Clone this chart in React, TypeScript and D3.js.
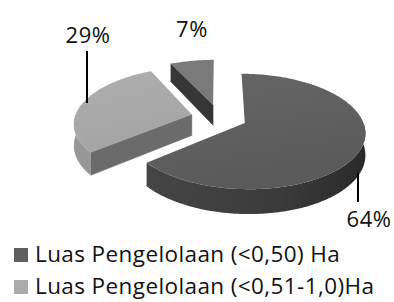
import React from "react";
import * as d3 from "d3";

// ---- data ----
const categories = ["Luas Pengelolaan (<0,50) Ha", "Luas Pengelolaan (<0,51-1,0)Ha", "Luas Pengelolaan (>1,0) Ha"];
const values = [64, 29, 7];
const labels = ["64%", "29%", "7%"];

// ---- styles ----
const radialColors = ["#4a4a4a", "#6b6b6b", "#363636"];
const outerColors = ["url(#bigSide)", "#989898", "#3a3a3a"];
const topFills = ["url(#bigTop)", "url(#midTop)", "#7a7a7a"];
const legendColors = ["#5f5f5f", "#aaaaaa", "#7a7a7a"];

const W = 394, H = 302;
// projection parameters
const CX = 219, CY = 117.4, RX = 117, RY = 54.86, P = 0.143, THICK = 21, EXPLODE = 0.24;

// label layout
const labelPos = [
  { x: 369, y: 227, line: [358, 173, 358, 202] },
  { x: 88, y: 43, line: [87, 51, 87, 103] },
  { x: 192, y: 37, line: null as null | number[] },
];

const FONT = "'Open Sans', sans-serif";

function proj(theta: number, r: number, z: number, m: number): [number, number] {
  const u = r * Math.sin(theta) + EXPLODE * Math.sin(m);
  const v = -r * Math.cos(theta) - EXPLODE * Math.cos(m);
  const s = 1 / (1 - P * v);
  return [CX + RX * u * s, CY + RY * v * s + THICK * z * s];
}

function arcPts(a0: number, a1: number, z: number, m: number): [number, number][] {
  const n = Math.max(2, Math.ceil(Math.abs(a1 - a0) / 0.02));
  return d3.range(n + 1).map((i) => proj(a0 + ((a1 - a0) * i) / n, 1, z, m));
}

export default function App() {
  const arcs = d3.pie<number>().sort(null).startAngle(0).endAngle(2 * Math.PI)(values);
  const line = d3.line<[number, number]>().x((d) => d[0]).y((d) => d[1]);

  const order = arcs
    .map((a, i) => ({ a, i, m: (a.startAngle + a.endAngle) / 2 }))
    .sort((p, q) => -Math.cos(p.m) - -Math.cos(q.m));

  const shapes: React.ReactNode[] = [];
  order.forEach(({ a, i, m }) => {
    const a0 = a.startAngle, a1 = a.endAngle;
    if (Math.sin(a0) < -1e-6) {
      const pts = [proj(a0, 0, 0, m), proj(a0, 1, 0, m), proj(a0, 1, 1, m), proj(a0, 0, 1, m)];
      shapes.push(<path key={`r0-${i}`} d={line(pts) + "Z"} fill={radialColors[i]} stroke={radialColors[i]} strokeWidth={0.5} />);
    }
    if (Math.sin(a1) > 1e-6) {
      const pts = [proj(a1, 0, 0, m), proj(a1, 1, 0, m), proj(a1, 1, 1, m), proj(a1, 0, 1, m)];
      shapes.push(<path key={`r1-${i}`} d={line(pts) + "Z"} fill={radialColors[i]} stroke={radialColors[i]} strokeWidth={0.5} />);
    }
    const s0 = Math.max(a0, Math.PI / 2), s1 = Math.min(a1, (3 * Math.PI) / 2);
    if (s1 > s0) {
      const pts = [...arcPts(s0, s1, 0, m), ...arcPts(s1, s0, 1, m)];
      shapes.push(<path key={`o-${i}`} d={line(pts) + "Z"} fill={outerColors[i]} stroke="none" />);
    }
    const topPts = [proj(0, 0, 0, m), ...arcPts(a0, a1, 0, m)];
    shapes.push(<path key={`t-${i}`} d={line(topPts) + "Z"} fill={topFills[i]} stroke="none" />);
  });

  const legendBase = 262, legendStep = 32;

  return (
    <svg width={W} height={H} style={{ position: "absolute", left: 0, top: 0, background: "#fff" }} fontFamily={FONT}>
      <defs>
        <linearGradient id="bigSide" x1="0" x2="1" y1="0" y2="0">
          <stop offset="0" stopColor="#454545" />
          <stop offset="0.6" stopColor="#3b3b3b" />
          <stop offset="1" stopColor="#2a2a2a" />
        </linearGradient>
        <linearGradient id="bigTop" x1="0" x2="0.3" y1="0" y2="1">
          <stop offset="0" stopColor="#666666" />
          <stop offset="1" stopColor="#5a5a5a" />
        </linearGradient>
        <linearGradient id="midTop" x1="0" x2="0.3" y1="0" y2="1">
          <stop offset="0" stopColor="#aeaeae" />
          <stop offset="1" stopColor="#a4a4a4" />
        </linearGradient>
      </defs>
      <rect width={W} height={H} fill="#fff" />
      {shapes}
      {labelPos.map((lp, i) => (
        <g key={`l-${i}`}>
          {lp.line && <line x1={lp.line[0]} y1={lp.line[1]} x2={lp.line[2]} y2={lp.line[3]} stroke="#000" strokeWidth={2} />}
          <text x={lp.x} y={lp.y} textAnchor="middle" fontSize={22} letterSpacing={0.5} fill="#111">{labels[i]}</text>
        </g>
      ))}
      {categories.map((c, i) => {
        const y = legendBase + i * legendStep;
        if (y > H + 10) return null;
        return (
          <g key={`lg-${i}`}>
            <rect x={14} y={y - 14} width={14} height={14} fill={legendColors[i]} />
            <text x={35} y={y} fontSize={22.5} letterSpacing={0.4} fill="#111">{c}</text>
          </g>
        );
      })}
    </svg>
  );
}
